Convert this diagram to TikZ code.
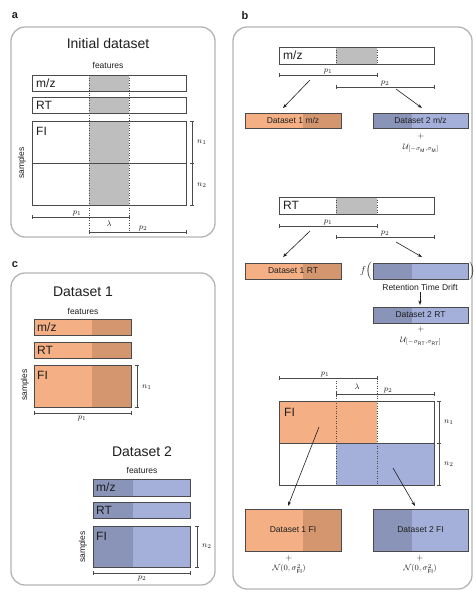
\documentclass[tikz,border=0pt]{standalone}
\usepackage{fontspec}
\setmainfont{Liberation Sans}
\usetikzlibrary{arrows.meta,fit}
\definecolor{orL}{HTML}{F4AF85}
\definecolor{orD}{HTML}{D4966E}
\definecolor{blL}{HTML}{A4B0DA}
\definecolor{blD}{HTML}{8A93B8}
\definecolor{grC}{HTML}{BEBEBE}
\definecolor{frameC}{HTML}{B4B4B4}
\definecolor{edgeC}{HTML}{4A4A4A}
\definecolor{txtC}{HTML}{1E1E1E}
\begin{document}
\begin{tikzpicture}[x=1pt,y=-1pt,
  panelbox/.style={draw=frameC, line width=1.3pt, rounded corners=14pt},
  rbox/.style={draw=edgeC, line width=0.7pt, inner sep=0pt},
  dimline/.style={draw=edgeC, line width=0.5pt, {Bar[width=3.5pt]}-{Bar[width=3.5pt]}},
  dotline/.style={draw=edgeC, line width=0.5pt, dotted},
  arrw/.style={draw=txtC, line width=0.6pt, -{Stealth[length=4.5pt,width=3.2pt]}},
  barlbl/.style={font=\fontsize{12}{13}\selectfont, anchor=west, inner sep=0pt, text=txtC},
  ttl/.style={font=\fontsize{14}{16}\selectfont, text=txtC},
  smalltxt/.style={font=\fontsize{8.5}{10}\selectfont, text=txtC, inner sep=0pt},
  mathlbl/.style={font=\fontsize{8}{9}\selectfont, text=txtC, inner sep=1pt},
  dstxt/.style={font=\fontsize{8.5}{10}\selectfont, text=txtC, inner sep=0pt},
  plab/.style={font=\bfseries\fontsize{11}{12}\selectfont, text=txtC}
]
\useasboundingbox (0,0) rectangle (475,592);

% ================= panel a =================
\node[plab] (la) at (15,16) {a};
\draw[panelbox] (11,27) rectangle (215,237);
\node[ttl] (ta) at (108,43) {Initial dataset};
\node[smalltxt] (fa) at (108,65) {features};
\fill[grC] (89,75) rectangle (129,91);
\fill[grC] (89,97) rectangle (129,113);
\fill[grC] (89,121) rectangle (129,205);
\node[rbox, fit={(32,75) (186,91)}] (amz) {};
\node[rbox, fit={(32,97) (186,113)}] (art) {};
\node[rbox, fit={(32,121) (186,205)}] (afi) {};
\draw[edgeC, line width=0.7pt] (afi.west) -- (afi.east);
\node[barlbl] (amzl) at (36,83) {m/z};
\node[barlbl] (artl) at (36,105) {RT};
\node[barlbl] (afil) at (36,131) {FI};
\coordinate (ad1t) at (89,75); \coordinate (ad1b) at (89,232);
\coordinate (ad2t) at (129,75); \coordinate (ad2b) at (129,232);
\draw[dotline] (ad1t) -- (ad1b);
\draw[dotline] (ad2t) -- (ad2b);
\node[smalltxt, rotate=90] (asam) at (22,163) {samples};
\coordinate (an0) at (192,121); \coordinate (an1) at (192,163); \coordinate (an2) at (192,205);
\draw[dimline] (an0) -- (an1);
\draw[dimline] (an1) -- (an2);
\node[mathlbl, anchor=west] (anl1) at (196,142) {$n_1$};
\node[mathlbl, anchor=west] (anl2) at (196,185) {$n_2$};
\coordinate (ap1a) at (32,217); \coordinate (ap1b) at (129,217);
\draw[dimline] (ap1a) -- (ap1b);
\node[mathlbl, anchor=south] (ap1l) at (77,217) {$p_1$};
\node[mathlbl] (alam) at (109,224) {$\lambda$};
\coordinate (ap2a) at (89,232); \coordinate (ap2b) at (186,232);
\draw[dimline] (ap2a) -- (ap2b);
\node[mathlbl, anchor=south] (ap2l) at (143,232) {$p_2$};

% ================= panel b =================
\node[plab] (lb) at (245,16) {b};
\draw[panelbox] (233,27) rectangle (472,589);

% --- m/z row
\fill[grC] (336,47) rectangle (377,64);
\node[rbox, fit={(279,47) (434,64)}] (bmz) {};
\draw[dotline] (336,47) -- (336,64);
\draw[dotline] (377,47) -- (377,64);
\node[barlbl] (bmzl) at (283,55.5) {m/z};
\draw[dimline] (279,75) -- (377,75);
\node[mathlbl, anchor=south] (bp1l) at (328,75) {$p_1$};
\draw[dimline] (336,87) -- (434,87);
\node[mathlbl, anchor=south] (bp2l) at (385,87) {$p_2$};
\coordinate (bm1s) at (310,80); \coordinate (bm1e) at (283,108);
\coordinate (bm2s) at (396,89); \coordinate (bm2e) at (422,108);
\draw[arrw] (bm1s) -- (bm1e);
\draw[arrw] (bm2s) -- (bm2e);
\fill[orL] (245,113) rectangle (341,128);
\fill[orD] (303,113) rectangle (341,128);
\node[rbox, fit={(245,113) (341,128)}] (d1mz) {};
\node[dstxt] (d1mzt) at (d1mz.center) {Dataset 1 m/z};
\fill[blL] (373,113) rectangle (468,128);
\fill[blD] (373,113) rectangle (412,128);
\node[rbox, fit={(373,113) (468,128)}] (d2mz) {};
\node[dstxt] (d2mzt) at (d2mz.center) {Dataset 2 m/z};
\node[mathlbl] (bplus1) at (421,136) {$+$};
\node[mathlbl] (bu1) at (421,148) {$\mathcal{U}_{[-\sigma_{\mathrm{M}},\sigma_{\mathrm{M}}]}$};

% --- RT row
\fill[grC] (336,197) rectangle (377,214);
\node[rbox, fit={(279,197) (434,214)}] (brt) {};
\draw[dotline] (336,197) -- (336,214);
\draw[dotline] (377,197) -- (377,214);
\node[barlbl] (brtl) at (283,205.5) {RT};
\draw[dimline] (279,226) -- (377,226);
\node[mathlbl, anchor=south] (bp1l2) at (328,226) {$p_1$};
\draw[dimline] (336,237) -- (434,237);
\node[mathlbl, anchor=south] (bp2l2) at (385,237) {$p_2$};
\coordinate (br1s) at (310,231); \coordinate (br1e) at (283,257);
\coordinate (br2s) at (396,242); \coordinate (br2e) at (422,257);
\draw[arrw] (br1s) -- (br1e);
\draw[arrw] (br2s) -- (br2e);
\fill[orL] (245,263) rectangle (341,279);
\fill[orD] (303,263) rectangle (341,279);
\node[rbox, fit={(245,263) (341,279)}] (d1rt) {};
\node[dstxt] (d1rtt) at (d1rt.center) {Dataset 1 RT};
\fill[blL] (373,263) rectangle (468,279);
\fill[blD] (373,263) rectangle (412,279);
\node[rbox, fit={(373,263) (468,279)}] (frt) {};
\node[font=\fontsize{10}{11}\selectfont, anchor=east, inner sep=0.5pt, text=txtC] (fl) at (frt.west) {$f\Big($};
\node[font=\fontsize{10}{11}\selectfont, anchor=west, inner sep=0.5pt, text=txtC] (fr) at (frt.east) {$\Big)$};
\node[dstxt] (rtd) at (420,287) {Retention Time Drift};
\draw[arrw] ([yshift=-2pt]rtd.south) -- (420,305);
\fill[blL] (373,307) rectangle (468,323);
\fill[blD] (373,307) rectangle (412,323);
\node[rbox, fit={(373,307) (468,323)}] (d2rt) {};
\node[dstxt] (d2rtt) at (d2rt.center) {Dataset 2 RT};
\node[mathlbl] (bplus2) at (421,329) {$+$};
\node[mathlbl] (bu2) at (421,341) {$\mathcal{U}_{[-\sigma_{\mathrm{RT}},\sigma_{\mathrm{RT}}]}$};

% --- FI
\fill[orL] (279,401) rectangle (377,443);
\fill[blL] (336,443) rectangle (434,485);
\node[rbox, fit={(279,401) (434,485)}] (bfi) {};
\draw[edgeC, line width=0.7pt] (bfi.west) -- (bfi.east);
\draw[dotline] (336,378) -- (336,485);
\draw[dotline] (377,378) -- (377,485);
\node[barlbl] (bfil) at (284,412) {FI};
\draw[dimline] (279,378) -- (377,378);
\node[mathlbl, anchor=south] (bp1l3) at (325,378) {$p_1$};
\draw[dimline] (336,394) -- (434,394);
\node[mathlbl] (blam) at (357,387) {$\lambda$};
\node[mathlbl, anchor=south] (bp2l3) at (388,394) {$p_2$};
\draw[dimline] (439,401) -- (439,443);
\draw[dimline] (439,443) -- (439,485);
\node[mathlbl, anchor=west] (bn1) at (443,422) {$n_1$};
\node[mathlbl, anchor=west] (bn2) at (443,464) {$n_2$};
\coordinate (bf1s) at (319,427); \coordinate (bf1e) at (288,506);
\coordinate (bf2s) at (393,468); \coordinate (bf2e) at (415,506);
\draw[arrw] (bf1s) -- (bf1e);
\draw[arrw] (bf2s) -- (bf2e);
\fill[orL] (245,509) rectangle (341,551);
\fill[orD] (303,509) rectangle (341,551);
\node[rbox, fit={(245,509) (341,551)}] (d1fi) {};
\node[dstxt] (d1fit) at (d1fi.center) {Dataset 1 FI};
\fill[blL] (373,509) rectangle (468,551);
\fill[blD] (373,509) rectangle (412,551);
\node[rbox, fit={(373,509) (468,551)}] (d2fi) {};
\node[dstxt] (d2fit) at (d2fi.center) {Dataset 2 FI};
\node[mathlbl, inner sep=0pt] (bplus3) at (289,558) {$+$};
\node[mathlbl, inner sep=0pt, anchor=north] (bn3) at (289,564) {$\mathcal{N}(0,\sigma^2_{\mathrm{FI}})$};
\node[mathlbl, inner sep=0pt] (bplus4) at (420,558) {$+$};
\node[mathlbl, inner sep=0pt, anchor=north] (bn4) at (420,564) {$\mathcal{N}(0,\sigma^2_{\mathrm{FI}})$};

% ================= panel c =================
\node[plab] (lc) at (15,265) {c};
\draw[panelbox] (11,273) rectangle (215,585);
\node[ttl] (tc1) at (83,292) {Dataset 1};
\node[smalltxt] (fc1) at (83,311) {features};
\fill[orL] (34,319) rectangle (131,335); \fill[orD] (92,319) rectangle (131,335);
\fill[orL] (34,342) rectangle (131,358); \fill[orD] (92,342) rectangle (131,358);
\fill[orL] (34,365) rectangle (131,407); \fill[orD] (92,365) rectangle (131,407);
\node[rbox, fit={(34,319) (131,335)}] (c1mz) {};
\node[rbox, fit={(34,342) (131,358)}] (c1rt) {};
\node[rbox, fit={(34,365) (131,407)}] (c1fi) {};
\node[barlbl] (c1mzl) at (37,327) {m/z};
\node[barlbl] (c1rtl) at (37,350) {RT};
\node[barlbl] (c1fil) at (37,375) {FI};
\node[smalltxt, rotate=90] (csam1) at (25,385) {samples};
\draw[dimline] (137,365) -- (137,407);
\node[mathlbl, anchor=west] (cn1) at (141,387) {$n_1$};
\draw[dimline] (34,413) -- (131,413);
\node[mathlbl, anchor=north] (cp1) at (82,415) {$p_1$};

\node[ttl] (tc2) at (142,452) {Dataset 2};
\node[smalltxt] (fc2) at (142,470) {features};
\fill[blL] (93,479) rectangle (190,496); \fill[blD] (93,479) rectangle (133,496);
\fill[blL] (93,502) rectangle (190,518); \fill[blD] (93,502) rectangle (133,518);
\fill[blL] (93,526) rectangle (190,567); \fill[blD] (93,526) rectangle (133,567);
\node[rbox, fit={(93,479) (190,496)}] (c2mz) {};
\node[rbox, fit={(93,502) (190,518)}] (c2rt) {};
\node[rbox, fit={(93,526) (190,567)}] (c2fi) {};
\node[barlbl] (c2mzl) at (96,487.5) {m/z};
\node[barlbl] (c2rtl) at (96,510) {RT};
\node[barlbl] (c2fil) at (96,536) {FI};
\node[smalltxt, rotate=90] (csam2) at (83,547) {samples};
\draw[dimline] (197,526) -- (197,567);
\node[mathlbl, anchor=west] (cn2) at (201,546) {$n_2$};
\draw[dimline] (93,573) -- (190,573);
\node[mathlbl, anchor=north] (cp2) at (142,575) {$p_2$};
\end{tikzpicture}
\end{document}
